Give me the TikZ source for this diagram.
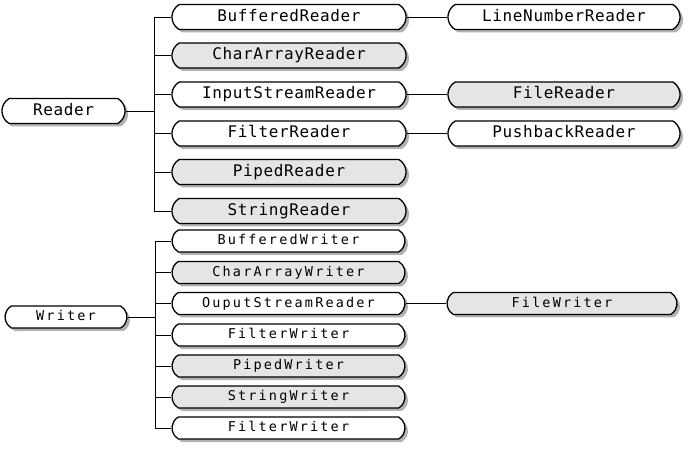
\documentclass[tikz,border=0pt]{standalone}
\usepackage{fontspec}
\usetikzlibrary{shapes.misc,shadows}
\newfontfamily\rdfont[LetterSpace=4]{DejaVu Sans Mono}
\newfontfamily\wrfont[LetterSpace=16]{DejaVu Sans Mono}
\tikzset{
  klass/.style={rounded rectangle,rounded rectangle arc length=120,draw,line width=1.3pt,
    fill=white,inner sep=0pt,drop shadow={shadow xshift=3pt,shadow yshift=-3pt,fill=black!30,opacity=1}},
  grayklass/.style={klass,fill=black!10},
  rdbox/.style={minimum height=25pt,text height=11.7pt,text depth=3.2pt,font=\rdfont\fontsize{16}{18}\selectfont},
  wrbox/.style={minimum height=22pt,text height=10pt,text depth=2.8pt,font=\wrfont\fontsize{13.5}{16}\selectfont},
  link/.style={line width=0.9pt}
}
\begin{document}
\begin{tikzpicture}[x=1pt,y=-1pt]
	\fill[white] (0,0) rectangle (688,470);
	\useasboundingbox (0,0) rectangle (688,470);

	% Reader group
	\node[klass,rdbox,minimum width=123pt] (reader) at (63.5,111) {Reader};
	\node[klass,rdbox,minimum width=234pt] (bufreader) at (289,17) {BufferedReader};
	\node[grayklass,rdbox,minimum width=234pt] (chreader) at (289,55.5) {CharArrayReader};
	\node[klass,rdbox,minimum width=234pt] (isreader) at (289,94.5) {InputStreamReader};
	\node[klass,rdbox,minimum width=234pt] (fltreader) at (289,133.5) {FilterReader};
	\node[grayklass,rdbox,minimum width=234pt] (pipreader) at (289,172) {PipedReader};
	\node[grayklass,rdbox,minimum width=234pt] (strreader) at (289,211) {StringReader};
	\node[klass,rdbox,minimum width=232pt] (lnreader) at (564,17) {LineNumberReader};
	\node[grayklass,rdbox,minimum width=232pt] (filereader) at (564,94.5) {FileReader};
	\node[klass,rdbox,minimum width=232pt] (pbreader) at (564,133.5) {PushbackReader};

	\coordinate (rtop) at (154,17);
	\coordinate (rbot) at (154,211);
	\draw[link] (rtop) -- (rbot);
	\draw[link] (reader.east) -- (rtop |- reader.east);
	\foreach \n in {bufreader,chreader,isreader,fltreader,pipreader,strreader}
		\draw[link] (rtop |- \n.west) -- (\n.west);
	\draw[link] (bufreader.east) -- (lnreader.west);
	\draw[link] (isreader.east) -- (filereader.west);
	\draw[link] (fltreader.east) -- (pbreader.west);

	% Writer group
	\node[klass,wrbox,minimum width=122pt] (writer) at (66,317) {Writer};
	\node[klass,wrbox,minimum width=233pt] (bufwriter) at (288.5,241) {BufferedWriter};
	\node[grayklass,wrbox,minimum width=233pt] (chwriter) at (288.5,272.5) {CharArrayWriter};
	\node[klass,wrbox,minimum width=233pt] (oswriter) at (288.5,303.5) {OuputStreamReader};
	\node[klass,wrbox,minimum width=233pt] (fltwriter) at (288.5,335) {FilterWriter};
	\node[grayklass,wrbox,minimum width=233pt] (pipwriter) at (288.5,366) {PipedWriter};
	\node[grayklass,wrbox,minimum width=233pt] (strwriter) at (288.5,397) {StringWriter};
	\node[klass,wrbox,minimum width=233pt] (fltwriterb) at (288.5,428) {FilterWriter};
	\node[grayklass,wrbox,minimum width=230pt] (filewriter) at (562,303.5) {FileWriter};

	\coordinate (wtop) at (155,241);
	\coordinate (wbot) at (155,428);
	\draw[link] (wtop) -- (wbot);
	\draw[link] (writer.east) -- (wtop |- writer.east);
	\foreach \n in {bufwriter,chwriter,oswriter,fltwriter,pipwriter,strwriter,fltwriterb}
		\draw[link] (wtop |- \n.west) -- (\n.west);
	\draw[link] (oswriter.east) -- (filewriter.west);
\end{tikzpicture}
\end{document}
